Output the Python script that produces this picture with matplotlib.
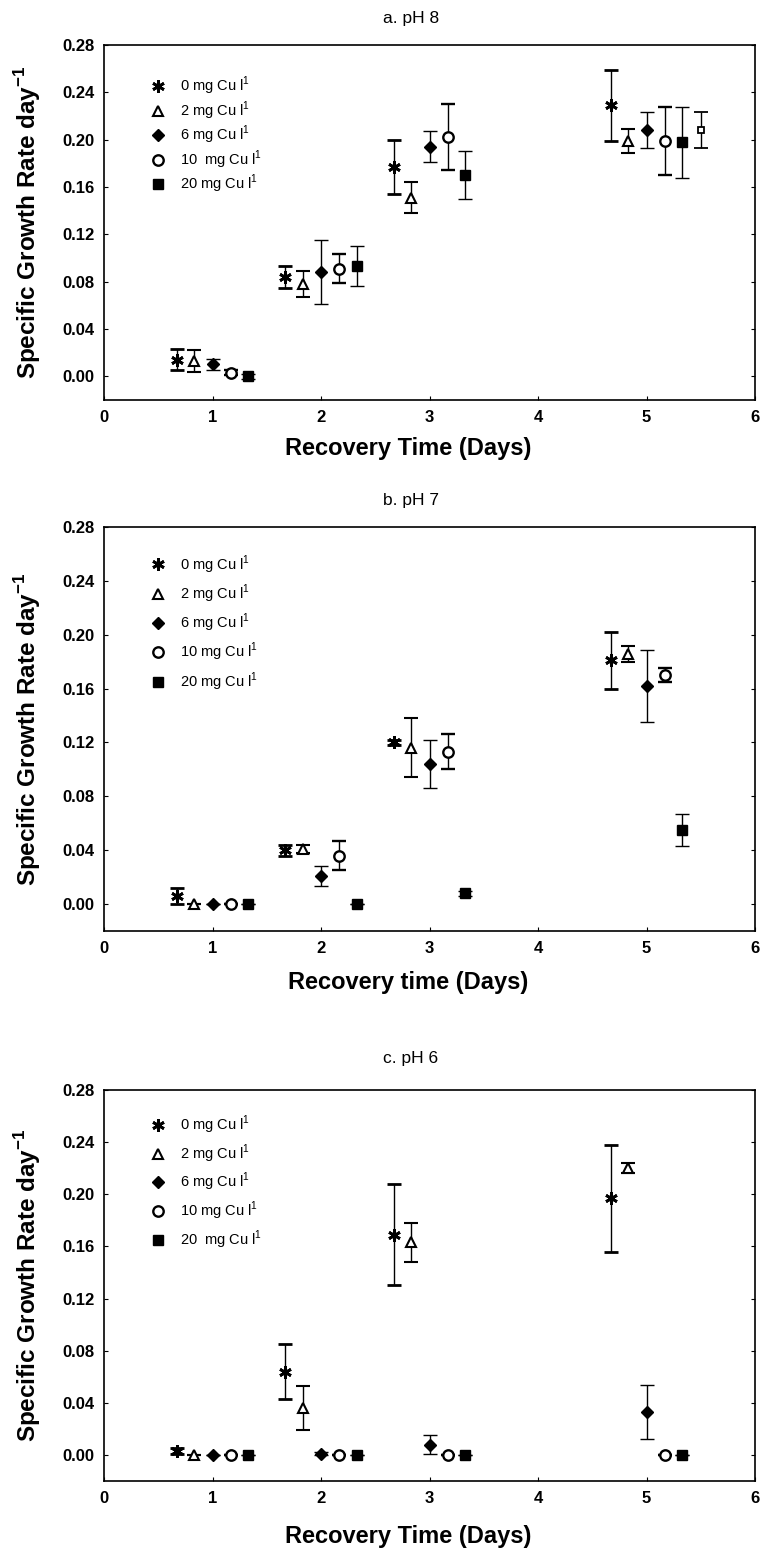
import matplotlib
matplotlib.use("Agg")
import matplotlib.pyplot as plt
from matplotlib.lines import Line2D

plt.rcParams["font.family"] = ["Liberation Sans", "DejaVu Sans"]
plt.rcParams["mathtext.fontset"] = "custom"
plt.rcParams["mathtext.rm"] = "Liberation Sans"
plt.rcParams["mathtext.bf"] = "Liberation Sans:bold"

# recovery day positions for each copper level (staggered around days 1, 2, 3, 5)
X_0MG = [0.67, 1.67, 2.67, 4.67]
X_2MG = [0.83, 1.83, 2.83, 4.83]
X_6MG = [1.00, 2.00, 3.00, 5.00]
X_10MG = [1.17, 2.17, 3.17, 5.17]
X_20MG = [1.33, 2.33, 3.33, 5.33]

DOSES = ["0", "2", "6", "10", "20"]

# a. pH 8  (rows: 0, 2, 6, 10, 20 mg Cu/l)
PH8_MEAN = [[0.014, 0.084, 0.177, 0.229],
            [0.013, 0.078, 0.151, 0.199],
            [0.010, 0.088, 0.194, 0.208],
            [0.003, 0.091, 0.202, 0.199],
            [0.000, 0.093, 0.170, 0.198]]
PH8_SD = [[0.009, 0.009, 0.023, 0.030],
          [0.009, 0.011, 0.013, 0.010],
          [0.005, 0.027, 0.013, 0.015],
          [0.002, 0.012, 0.028, 0.029],
          [0.002, 0.017, 0.020, 0.030]]
# stray open-square point drawn right of the day-5 group in panel a
PH8_EXTRA_X = [5.50]
PH8_EXTRA_Y = [0.208]
PH8_EXTRA_SD = [0.015]

# b. pH 7
PH7_MEAN = [[0.006, 0.040, 0.120, 0.181],
            [0.000, 0.041, 0.116, 0.186],
            [0.000, 0.021, 0.104, 0.162],
            [0.000, 0.036, 0.113, 0.170],
            [0.000, 0.000, 0.008, 0.055]]
PH7_SD = [[0.006, 0.004, 0.002, 0.021],
          [0.000, 0.003, 0.022, 0.006],
          [0.000, 0.0075, 0.018, 0.027],
          [0.000, 0.0105, 0.013, 0.005],
          [0.000, 0.000, 0.002, 0.012]]

# c. pH 6
PH6_MEAN = [[0.003, 0.064, 0.169, 0.197],
            [0.000, 0.036, 0.163, 0.220],
            [0.000, 0.001, 0.008, 0.033],
            [0.000, 0.000, 0.000, 0.000],
            [0.000, 0.000, 0.000, 0.000]]
PH6_SD = [[0.002, 0.021, 0.039, 0.041],
          [0.000, 0.017, 0.015, 0.004],
          [0.000, 0.001, 0.007, 0.021],
          [0.000, 0.000, 0.000, 0.000],
          [0.000, 0.000, 0.000, 0.000]]

X_TICKS = [0, 1, 2, 3, 4, 5, 6]
Y_TICKS = [0.00, 0.04, 0.08, 0.12, 0.16, 0.20, 0.24, 0.28]

W, H = 765, 1551
XS = [X_0MG, X_2MG, X_6MG, X_10MG, X_20MG]
STYLES = [dict(marker=(6, 2, 0), ms=9, mew=2.0, mfc="black"),
          dict(marker="^", ms=7.5, mew=1.5, mfc="white"),
          dict(marker="D", ms=6, mew=1.0, mfc="black"),
          dict(marker="o", ms=7.5, mew=1.7, mfc="white"),
          dict(marker="s", ms=7.5, mew=1.0, mfc="black")]


def draw_panel(top, bottom, title, title_y, xlabel, xlab_dy, mean, sd,
               leg_gap, leg_top, leg_names):
    ax = fig.add_axes([104 / W, 1 - bottom / H, 651 / W, (bottom - top) / H])
    for xs, m, s, st in zip(XS, mean, sd, STYLES):
        ax.errorbar(xs, m, yerr=s, ls="none", color="black", mec="black",
                    elinewidth=1.0, capsize=5, capthick=1.0, **st)
    ax.set_xlim(0, 6)
    ax.set_ylim(-0.02, 0.28)
    ax.set_xticks(X_TICKS)
    ax.set_yticks(Y_TICKS)
    ax.set_yticklabels([f"{v:.2f}" for v in Y_TICKS])
    ax.tick_params(direction="in", length=3, width=0.8, labelsize=12, pad=7,
                   right=True)
    for lab in ax.get_xticklabels() + ax.get_yticklabels():
        lab.set_fontweight("bold")
    for sp in ax.spines.values():
        sp.set_linewidth(1.2)
    ax.set_xlabel(xlabel, fontsize=17, fontweight="bold", va="center")
    ax.xaxis.set_label_coords((408 - 104) / 651, -xlab_dy / (bottom - top))
    ax.set_ylabel(r"Specific Growth Rate day$^{\mathbf{-1}}$", fontsize=17.5,
                  fontweight="bold", va="center")
    ax.yaxis.set_label_coords(-76 / 651, 0.5)
    fig.text(411 / W, 1 - title_y / H, title, fontsize=12.5, ha="center",
             va="center")
    handles = [Line2D([], [], ls="none", color="black", mec="black", **st)
               for st in STYLES]
    ax.legend(handles, leg_names, loc="upper left",
              bbox_to_anchor=(0.072, leg_top),
              frameon=False, fontsize=10.5, handlelength=1.0,
              handletextpad=1.0, labelspacing=leg_gap, borderpad=0,
              borderaxespad=0)
    return ax


fig = plt.figure(figsize=(W / 100, H / 100), dpi=100)

names_a = [f"{d} mg Cu l$^{{1}}$" for d in DOSES]
names_a[3] = "10  mg Cu l$^{1}$"
names_bc = [f"{d} mg Cu l$^{{1}}$" for d in DOSES]
names_c = list(names_bc)
names_c[4] = "20  mg Cu l$^{1}$"

ax_a = draw_panel(45, 400, "a. pH 8", 18, "Recovery Time (Days)", 48,
                  PH8_MEAN, PH8_SD, 0.15, 0.915, names_a)
ax_a.errorbar(PH8_EXTRA_X, PH8_EXTRA_Y, yerr=PH8_EXTRA_SD, ls="none",
              color="black", marker="s", ms=5, mfc="white", mec="black",
              mew=1.3, elinewidth=1.0, capsize=5, capthick=1.0)
draw_panel(527, 931, "b. pH 7", 500, "Recovery time (Days)", 52,
           PH7_MEAN, PH7_SD, 0.48, 0.935, names_bc)
draw_panel(1090, 1481, "c. pH 6", 1059, "Recovery Time (Days)", 56,
           PH6_MEAN, PH6_SD, 0.45, 0.94, names_c)

fig.savefig("out.png", dpi=100)
